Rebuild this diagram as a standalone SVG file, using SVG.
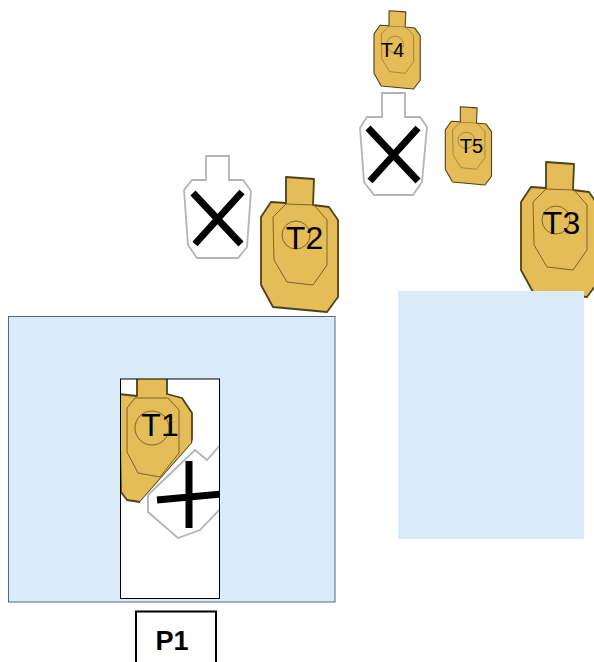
<svg xmlns="http://www.w3.org/2000/svg" xmlns:xlink="http://www.w3.org/1999/xlink" width="594" height="662" viewBox="0 0 594 662">
<style>
.outer{fill:#e4bc58;stroke:#4f4119;stroke-width:1.8;stroke-linejoin:round}
.inner{fill:none;stroke:#7d6426;stroke-width:1}
.blank{fill:#fff;stroke:#b4b4b4;stroke-width:1.8}
.cross{stroke:#000;stroke-width:7;fill:none}
.zone{fill:#d9ebf9}
.lbl{font-family:"Liberation Sans",Arial,sans-serif;fill:#000;text-anchor:middle}
</style>
<defs>
<g id="tgt">
<polygon class="outer" points="286,177 314,179 313,205 329,207 338,220 338,297 327,312 273,307 261,285 261,217 271,202 286,203"/>
<polygon class="inner" points="286,204 273,217 274,260 287,282 313,285 327,265 327,220 314,205"/>
<circle class="inner" cx="296" cy="235" r="14"/>
</g>
<clipPath id="win"><rect x="121" y="379" width="98" height="219"/></clipPath>
</defs>
<g id="T4"><use xlink:href="#tgt" href="#tgt" transform="translate(374 10.7) scale(.6 .58) translate(-261 -177)"/><text class="lbl" x="392.500" y="57" font-size="20">T4</text></g>
<g id="T5"><use xlink:href="#tgt" href="#tgt" transform="translate(445.300 106.700) scale(.6 .58) translate(-261 -177)"/><text class="lbl" x="471.500" y="153" font-size="20">T5</text></g>
<g id="T2"><use xlink:href="#tgt" href="#tgt"/><text class="lbl" x="304.500" y="249" font-size="32">T2</text></g>
<g id="T3"><use xlink:href="#tgt" href="#tgt" transform="translate(260 -15)"/><text class="lbl" x="561.500" y="234" font-size="32">T3</text></g>
<g id="X1">
<polygon class="blank" points="382,93 405,93 405,117 420,117 427,127 422,182 413,195 374,195 364,182 360,128 367,117 382,117"/>
<path class="cross" d="M368 128L418 181M418 128L370 181"/>
</g>
<g id="X2">
<polygon class="blank" points="206,156 229,156 229,180 243,180 251,191 247,247 238,258 197,258 188,245 184,190 192,180 206,180"/>
<path class="cross" d="M193 193L241 244M242 192L195 244"/>
</g>
<g id="zone-right"><rect class="zone" x="398" y="291" width="186" height="248"/></g>
<g id="zone-left"><rect class="zone" x="8.500" y="316.500" width="326.500" height="285.500" stroke="#5c6670" stroke-width="1"/></g>
<g id="T1">
<rect x="120.500" y="379" width="99" height="219.500" fill="#fff"/>
<g clip-path="url(#win)">
<polygon class="outer" points="137,378 167,378 167,394 182,398 192,413 192,443 140,502 127,500 121,492 119,394 137,396"/>
<polygon class="inner" points="135,398 127,408 127,452 138,473 160,477 179,453 179,410 168,398"/>
<circle class="inner" cx="152" cy="428" r="17"/>
<polygon fill="#fff" points="192,443 140,502 142,530 222,530 222,435 194,435"/>
<polygon class="blank" points="221,444 207,460 195,450 148,495 148,512 178,538 200,530 221,508"/>
<path d="M189 461L189 528M157 500L221 494" stroke="#000" stroke-width="7" fill="none"/>
</g>
<rect x="120.500" y="379" width="99" height="219.500" fill="none" stroke="#000" stroke-width="1"/>
<text class="lbl" x="160" y="436" font-size="32">T1</text>
</g>
<g id="P1">
<path d="M136 662V611.500H216V662" fill="#fff" stroke="#000" stroke-width="2"/>
<text class="lbl" x="172" y="650" font-size="27" font-weight="bold">P1</text>
</g>
</svg>
